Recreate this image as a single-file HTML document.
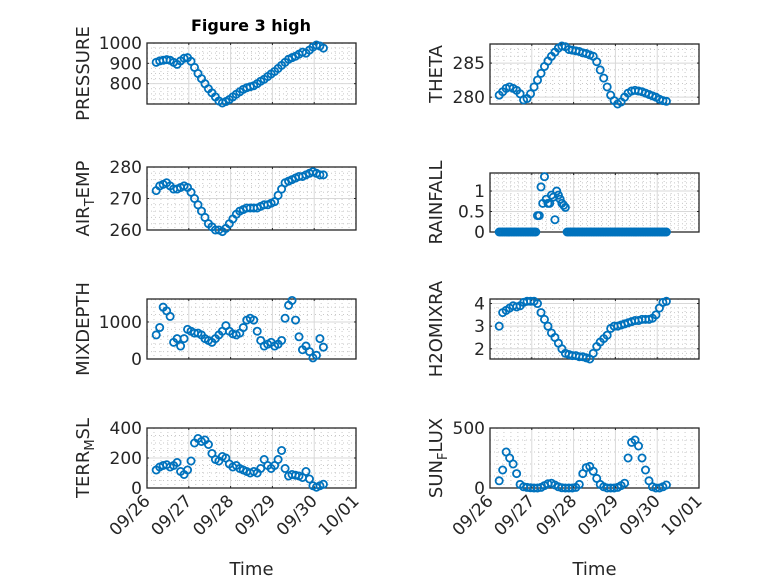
<!DOCTYPE html>
<html><head><meta charset="utf-8"><style>
html,body{margin:0;padding:0;background:#fff;}
svg{display:block;font-family:"DejaVu Sans","Liberation Sans",sans-serif;}
</style></head><body>
<svg id="fig" width="778" height="583" viewBox="0 0 778 583" xmlns="http://www.w3.org/2000/svg">
<rect width="778" height="583" fill="#fff"/>
<text x="251" y="31" text-anchor="middle" font-size="16" font-weight="bold" fill="#000">Figure 3 high</text>
</svg>
<script>
const pressure=[905,912,915,918,915,905,895,912,925,928,910,880,850,825,800,775,755,735,715,705,712,722,735,748,760,772,780,785,790,800,812,822,835,848,860,875,890,905,920,928,935,945,955,950,965,980,990,985,975];
const airTemp=[272.5,274,274.5,275,274,273,273,273.5,274,273.5,272,270,268,266,264,262,261,260,260,259.5,260.5,262,263.5,265,266,266.5,267,267,267,267,267.5,268,268,268.5,269,271,273,275,275.5,276,276.5,277,277,277.5,278,278.5,278,277.5,277.5];
const mixDepth=[650,850,1400,1300,1150,450,550,350,550,800,750,700,700,650,550,500,450,550,650,750,900,750,680,650,700,850,1050,1100,1050,750,500,350,400,450,350,400,500,1100,1450,1580,1050,600,250,350,200,30,100,550,320];
const terrMsl=[120,140,150,155,140,150,170,110,90,120,180,300,330,310,320,290,230,190,180,210,200,160,140,150,130,120,110,100,110,100,130,190,150,130,150,190,250,130,80,90,85,80,70,110,60,15,5,15,25];
const theta=[280.3,280.8,281.3,281.5,281.3,281,280.5,279.6,279.8,280.5,281.5,282.5,283.5,284.5,285.3,286,286.6,287.2,287.5,287.4,287,286.9,286.8,286.7,286.5,286.4,286.2,286,285.2,284,282.8,281.5,280.3,279.5,279,279.3,280,280.6,280.9,281,280.9,280.8,280.6,280.4,280.2,280,279.7,279.5,279.4];
const rainfall=[0,0,0,0,0,0,0,0,0,0,0,0,0,0,0,0,0,0,0,0,0,0,0.4,0.4,1.1,0.7,1.35,0.8,0.7,0.7,0.9,0.85,0.3,1.0,0.9,0.8,0.7,0.65,0.6,0,0,0,0,0,0,0,0,0,0,0,0,0,0,0,0,0,0,0,0,0,0,0,0,0,0,0,0,0,0,0,0,0,0,0,0,0,0,0,0,0,0,0,0,0,0,0,0,0,0,0,0,0,0,0,0,0,0];
const h2oMixRa=[3.0,3.6,3.7,3.8,3.9,3.85,3.9,4.05,4.1,4.1,4.1,4.0,3.6,3.3,3.0,2.7,2.5,2.25,2.0,1.8,1.75,1.7,1.7,1.65,1.65,1.6,1.55,1.8,2.1,2.3,2.45,2.6,2.9,3.0,3.0,3.05,3.1,3.15,3.2,3.25,3.25,3.3,3.3,3.3,3.35,3.5,3.8,4.05,4.1];
const sunFlux=[60,150,300,250,200,120,30,10,5,2,0,0,5,20,35,40,25,10,2,0,0,0,5,30,120,170,180,140,80,30,10,0,0,0,5,20,40,250,380,400,350,250,150,60,10,0,0,10,25];
const xTickLabels=["09/26","09/27","09/28","09/29","09/30","10/01"];
const tStart=0.22, tEnd=4.22;

const NS="http://www.w3.org/2000/svg";
const svg=document.getElementById('fig');
function mk(tag,attrs,parent){const e=document.createElementNS(NS,tag);for(const k in attrs)e.setAttribute(k,attrs[k]);(parent||svg).appendChild(e);return e;}

const panels=[
 {name:'pressure',data:pressure,x0:147,x1:356,y0:43,y1:104,ymin:700,ymax:1000,ticks:[800,900,1000],minor:[725,750,775,825,850,875,925,950,975],label:['PRESSURE'],bottom:false},
 {name:'air-temp',data:airTemp,x0:147,x1:356,y0:167,y1:230,ymin:260,ymax:280,ticks:[260,270,280],minor:[262,264,266,268,272,274,276,278],label:['AIR','T','EMP'],bottom:false},
 {name:'mixdepth',data:mixDepth,x0:147,x1:356,y0:299,y1:359,ymin:0,ymax:1620,ticks:[0,1000],minor:[200,400,600,800,1200,1400,1600],label:['MIXDEPTH'],bottom:false},
 {name:'terr-msl',data:terrMsl,x0:147,x1:356,y0:428,y1:488,ymin:0,ymax:400,ticks:[0,200,400],minor:[50,100,150,250,300,350],label:['TERR','M','SL'],bottom:true},
 {name:'theta',data:theta,x0:490,x1:699,y0:44,y1:104,ymin:279,ymax:287.8,ticks:[280,285],minor:[281,282,283,284,286,287],label:['THETA'],bottom:false},
 {name:'rainfall',data:rainfall,x0:490,x1:699,y0:173,y1:232,ymin:0,ymax:1.44,ticks:[0,0.5,1],minor:[0.1,0.2,0.3,0.4,0.6,0.7,0.8,0.9,1.1,1.2,1.3,1.4],label:['RAINFALL'],bottom:false},
 {name:'h2omixra',data:h2oMixRa,x0:490,x1:699,y0:299,y1:359,ymin:1.55,ymax:4.2,ticks:[2,3,4],minor:[1.6,1.8,2.2,2.4,2.6,2.8,3.2,3.4,3.6,3.8,4.2],label:['H2OMIXRA'],bottom:false},
 {name:'sun-flux',data:sunFlux,x0:490,x1:699,y0:428,y1:488,ymin:0,ymax:500,ticks:[0,500],minor:[100,200,300,400],label:['SUN','F','LUX'],bottom:true}
];

panels.forEach(p=>{
 const g=mk('g',{});
 
 
 const xs=t=>p.x0+(p.x1-p.x0)*t/5;
 const ys=v=>p.y1-(p.y1-p.y0)*(v-p.ymin)/(p.ymax-p.ymin);
 for(let d=0;d<5;d++)for(let q=1;q<6;q++){const x=xs(d+q/6);mk('line',{x1:x,x2:x,y1:p.y0,y2:p.y1,stroke:'#c8c8c8','stroke-dasharray':'1,3','stroke-width':1},g);}
 p.minor.forEach(v=>{const y=ys(v);if(y>p.y0&&y<p.y1)mk('line',{x1:p.x0,x2:p.x1,y1:y,y2:y,stroke:'#c8c8c8','stroke-dasharray':'1,3','stroke-width':1},g);});
 for(let d=1;d<5;d++){const x=xs(d);mk('line',{x1:x,x2:x,y1:p.y0,y2:p.y1,stroke:'#d8d8d8','stroke-width':1},g);}
 p.ticks.forEach(v=>{const y=ys(v);mk('line',{x1:p.x0,x2:p.x1,y1:y,y2:y,stroke:'#d8d8d8','stroke-width':1},g);});
 for(let d=0;d<=5;d++){const x=xs(d);mk('line',{x1:x,x2:x,y1:p.y1,y2:p.y1-2,stroke:'#262626'},g);mk('line',{x1:x,x2:x,y1:p.y0,y2:p.y0+2,stroke:'#262626'},g);}
 p.ticks.forEach(v=>{const y=ys(v);mk('line',{x1:p.x0,x2:p.x0+2,y1:y,y2:y,stroke:'#262626'},g);mk('line',{x1:p.x1,x2:p.x1-2,y1:y,y2:y,stroke:'#262626'},g);
  const tl=mk('text',{x:p.x0-5,y:y+6,'text-anchor':'end','font-size':17,fill:'#262626'},g);tl.textContent=String(v);
  
  });
 const box=mk('rect',{x:p.x0,y:p.y0,width:p.x1-p.x0,height:p.y1-p.y0,fill:'none',stroke:'#262626','stroke-width':1.3},g);
 
 
 const n=p.data.length;
 p.data.forEach((v,i)=>{const t=tStart+(tEnd-tStart)*i/(n-1);
  const c=mk('circle',{cx:xs(t),cy:ys(v),r:3.6,fill:'none',stroke:'#0072BD','stroke-width':1.8},g);
  
  });
 const lx=p.x0<300?89:442, ly=(p.y0+p.y1)/2;
 const yl=mk('text',{x:lx,y:ly,'text-anchor':'middle','font-size':18,fill:'#262626',transform:`rotate(-90 ${lx} ${ly})`},g);
 
 
 if(p.label.length===1){yl.textContent=p.label[0];}
 else{const a=mk('tspan',{},yl);a.textContent=p.label[0];const b=mk('tspan',{dy:5,'font-size':13},yl);b.textContent=p.label[1];const c=mk('tspan',{dy:-5},yl);c.textContent=p.label[2];}
 if(p.bottom){
  xTickLabels.forEach((s,d)=>{const x=xs(d)+4,y=p.y1+14;
   const tl=mk('text',{x:x,y:y,'text-anchor':'end','font-size':17,fill:'#262626',transform:`rotate(-45 ${x} ${y})`},g);tl.textContent=s;
   
   });
  const xt=mk('text',{x:(p.x0+p.x1)/2,y:575,'text-anchor':'middle','font-size':18,fill:'#262626'},g);xt.textContent='Time';
  
  
 }
});
</script>
</body></html>
